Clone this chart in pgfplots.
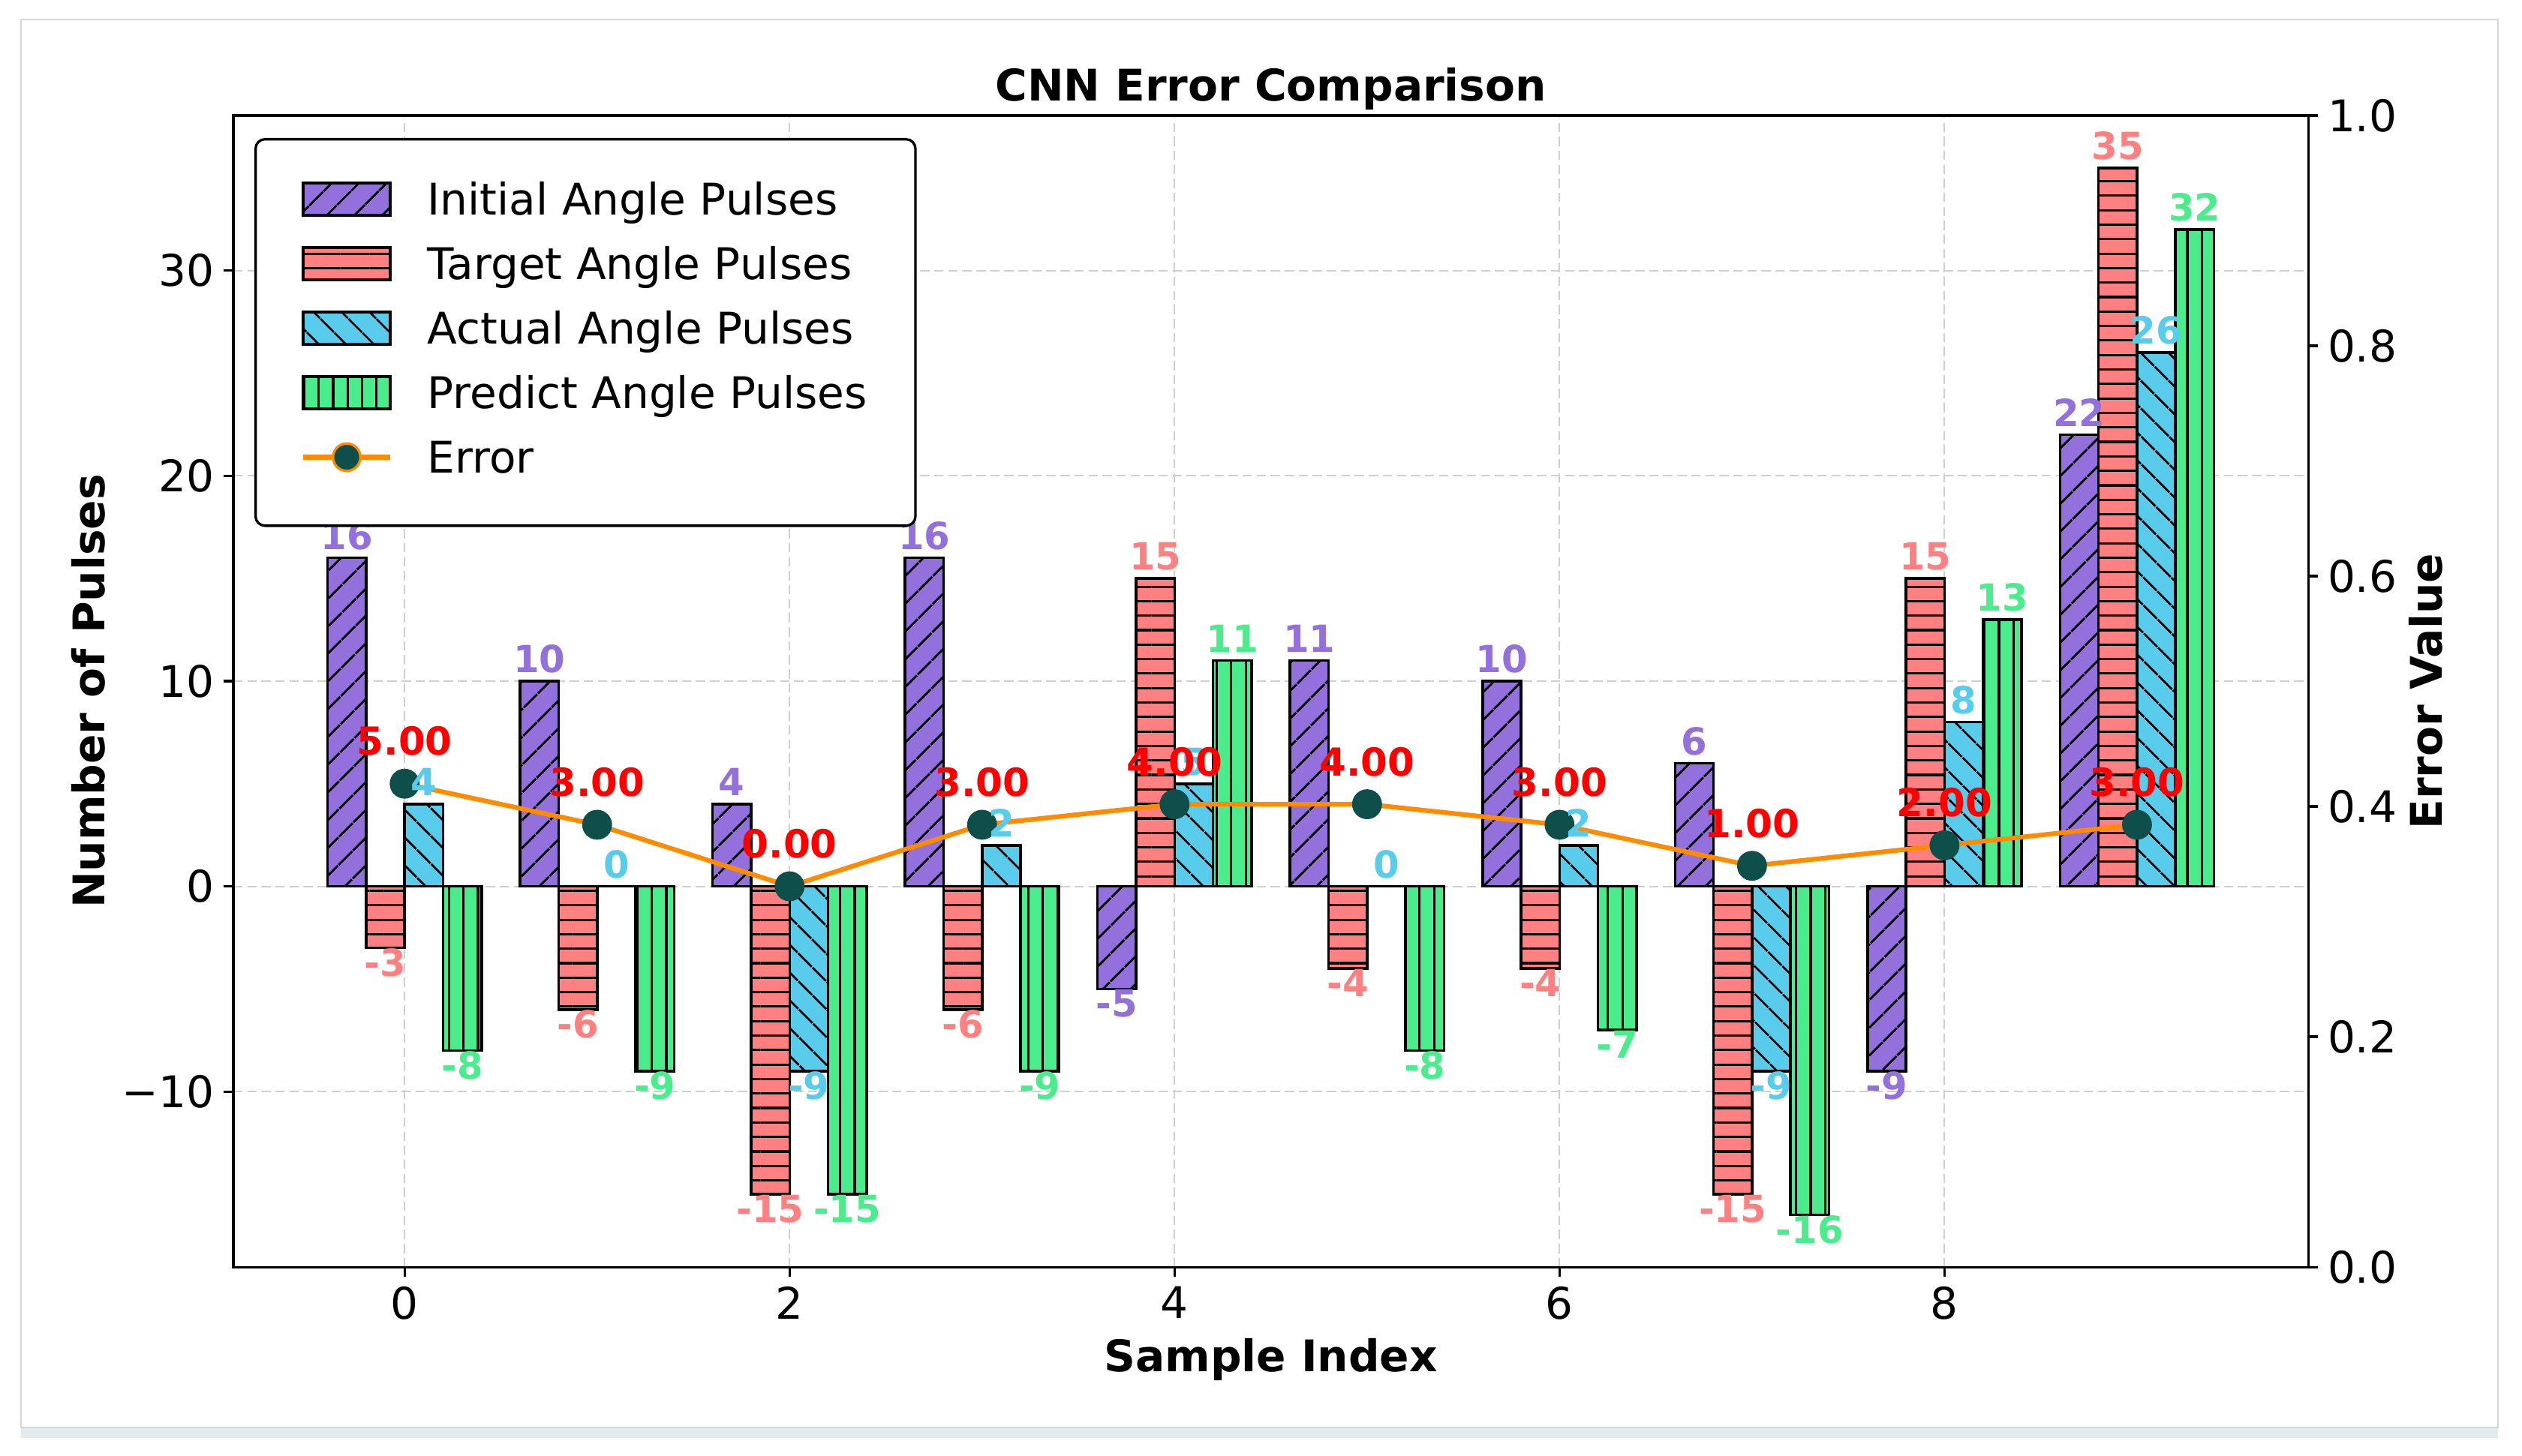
\documentclass[border=0pt]{standalone}
\usepackage{fontspec}
\setmainfont{DejaVu Sans}
\usepackage{pgfplots}
\pgfplotsset{compat=1.18}
\usepackage{pgfplotstable}
\usetikzlibrary{patterns.meta}

\definecolor{cInit}{HTML}{9370DB}
\definecolor{cTarget}{HTML}{FF8080}
\definecolor{cActual}{HTML}{58CCEA}
\definecolor{cPred}{HTML}{4AEC8C}
\definecolor{cLine}{HTML}{FF8C00}
\definecolor{cMark}{HTML}{0E4F4B}
\definecolor{cGrid}{HTML}{CFCFCF}
\definecolor{cCard}{HTML}{D6D6D6}
\definecolor{cShadow}{HTML}{E2ECEC}

% sample, initial, target, actual, predicted pulses, error
\pgfplotstableread{
x init target actual pred err
0 16  -3  4  -8 5
1 10  -6  0  -9 3
2  4 -15 -9 -15 0
3 16  -6  2  -9 3
4 -5  15  5  11 4
5 11  -4  0  -8 4
6 10  -4  2  -7 3
7  6 -15 -9 -16 1
8 -9  15  8  13 2
9 22  35 26  32 3
}\pulses

\newcommand\fs{\fontsize{14}{16.8}\selectfont}
\newcommand\fl{\fontsize{12}{14.4}\selectfont\bfseries}

\pgfplotsset{
  barleg/.style={legend image code/.code={\draw[##1,sharp corners] (0pt,0pt) rectangle (28pt,10.3pt);}},
  hatch/.style 2 args={postaction={pattern color=black,pattern={Lines[angle=#1,distance=#2,line width=0.75pt]}}},
  bars/.style={ybar, bar width=0.2, bar shift=#1, draw=black, line width=0.85pt},
  barlab/.style={ybar, bar width=0.2, bar shift=0, draw=none, fill=none, forget plot,
    point meta=y, nodes near coords={\pgfmathprintnumber{\pgfplotspointmeta}},
    every node near coord/.append style={font=\fl, text=#1, inner sep=0pt, text depth=2.5pt}},
  frame/.style={at={(0,0)}, anchor=south west, scale only axis, width=666.1pt, height=369.8pt,
    tick align=outside, major tick length=3pt, tick style={black,line width=0.8pt},
    axis line style={line width=0.8pt},
    tick label style={font=\fs, inner sep=3pt},
    /pgf/number format/assume math mode=true},
}

\begin{document}
\begin{tikzpicture}
\fill[cShadow] (-68.2pt,-54.9pt) rectangle (727.0pt,-51.55pt);
\draw[cCard, line width=0.6pt] (-68.2pt,-51.55pt) rectangle (727.0pt,400.6pt);

\begin{axis}[frame,
  xmin=-0.89, xmax=9.89, ymin=-18.55, ymax=37.55,
  xtick={0,2,4,6,8}, ytick={-10,0,10,20,30},
  yticklabels={−10,0,10,20,30},
  xtick pos=left, ytick pos=left,
  grid=major, grid style={cGrid, dash pattern=on 3pt off 1.5pt, line width=0.5pt},
  title={CNN Error Comparison},
  every axis title/.style={font=\fs\bfseries, at={(axis description cs:0.5,1.01244)}, anchor=base},
  xlabel={Sample Index},
  xlabel style={font=\fs\bfseries, at={(axis description cs:0.5,-0.09059)}, anchor=base},
  ylabel={Number of Pulses},
  ylabel style={font=\fs\bfseries, at={(axis description cs:-0.0698,0.5)}, anchor=center},
  legend cell align=left,
  legend style={at={(axis description cs:0.01013,0.98046)}, anchor=north west,
    draw=black, line width=0.8pt, rounded corners=3pt, fill=white, font=\fs,
    inner xsep=14.5pt, inner ysep=12.4pt, row sep=4.2pt, column sep=10.2pt,
    cells={anchor=base west},
    nodes={inner sep=1pt, text height=11pt, text depth=3.5pt}},
]
\addplot[bars=-0.3, fill=cInit, hatch={45}{6.5pt}, barleg] table[x=x,y=init]{\pulses};
\addlegendentry{Initial Angle Pulses}
\addplot[bars=-0.1, fill=cTarget, hatch={0}{4.65pt}, barleg] table[x=x,y=target]{\pulses};
\addlegendentry{Target Angle Pulses}
\addplot[bars=0.1, fill=cActual, hatch={-45}{6.5pt}, barleg] table[x=x,y=actual]{\pulses};
\addlegendentry{Actual Angle Pulses}
\addplot[bars=0.3, fill=cPred, hatch={90}{4.65pt}, barleg] table[x=x,y=pred]{\pulses};
\addlegendentry{Predict Angle Pulses}

\addplot[cLine, line width=1.5pt, mark=*, mark size=4.6pt,
  mark options={fill=cMark, draw=cMark, line width=0.4pt},
  legend image code/.code={
    \draw[cLine, line width=1.5pt] (0pt,5.1pt) -- (28pt,5.1pt);
    \draw[fill=cMark, draw=cLine, line width=0.8pt] (14pt,5.1pt) circle (4.4pt);}]
  table[x=x,y=err]{\pulses};
\addlegendentry{Error}

\addplot[barlab=cInit] table[x expr=\thisrow{x}-0.3,y=init]{\pulses};
\addplot[barlab=cTarget] table[x expr=\thisrow{x}-0.1,y=target]{\pulses};
\addplot[barlab=cActual] table[x expr=\thisrow{x}+0.1,y=actual]{\pulses};
\addplot[barlab=cPred] table[x expr=\thisrow{x}+0.3,y=pred]{\pulses};

\addplot[draw=none, mark=none, forget plot, point meta=y,
  nodes near coords={\pgfmathprintnumber[fixed,precision=2,zerofill]{\pgfplotspointmeta}},
  every node near coord/.append style={font=\fontsize{12.4}{15}\selectfont\bfseries,
    text=red, inner sep=0pt, anchor=south, yshift=8.8pt}]
  table[x=x,y=err]{\pulses};
\end{axis}

\begin{axis}[frame,
  xmin=0, xmax=1, ymin=0, ymax=1,
  axis y line*=right, axis x line=none,
  ytick={0,0.2,0.4,0.6,0.8,1},
  yticklabel={\pgfmathprintnumber[fixed,precision=1,zerofill]{\tick}},
  ylabel={Error Value},
  ylabel style={font=\fs\bfseries, at={(axis description cs:1.0565,0.5)}, anchor=center},
]
\end{axis}

\pgfresetboundingbox
\useasboundingbox (-74.9pt,-60.5pt) rectangle (734.7pt,406.9pt);
\end{tikzpicture}
\end{document}
